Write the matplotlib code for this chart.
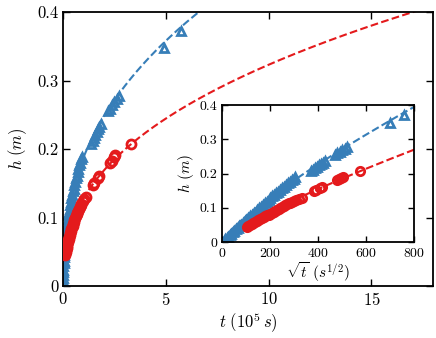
import numpy as np
import matplotlib
matplotlib.use('Agg')
import matplotlib.pyplot as plt
from matplotlib.ticker import FuncFormatter

plt.rcParams['font.family'] = 'serif'
plt.rcParams['font.serif'] = ['cmr10']
plt.rcParams['mathtext.fontset'] = 'cm'
plt.rcParams['axes.formatter.use_mathtext'] = True

# Data (sqrt(t) in s^1/2, h in m)
blue_s = [8, 14, 20, 26, 32, 38, 45, 52, 58, 65, 72, 80, 88, 95, 102, 110, 118, 125,
          132, 140, 148, 155, 162, 170, 178, 186, 194, 202, 210, 218, 226, 234, 242,
          250, 258, 266, 274, 282, 290, 298, 305,
          372, 380, 388, 396, 404, 412, 420, 428,
          470, 480, 490, 500, 512, 522,
          700, 758]
blue_h = [0.004, 0.008, 0.012, 0.016, 0.020, 0.024, 0.029, 0.033, 0.037, 0.042, 0.046,
          0.051, 0.056, 0.061, 0.065, 0.070, 0.075, 0.080, 0.084, 0.089, 0.094, 0.098,
          0.103, 0.108, 0.113, 0.118, 0.123, 0.128, 0.133, 0.138, 0.142, 0.147, 0.152,
          0.157, 0.161, 0.166, 0.171, 0.176, 0.180, 0.185, 0.189,
          0.207, 0.211, 0.216, 0.220, 0.225, 0.229, 0.232, 0.236,
          0.255, 0.259, 0.264, 0.268, 0.273, 0.278,
          0.348, 0.372]

red_s = [103, 110, 117, 124, 131, 138, 145, 152, 159, 166, 173, 180, 187, 194, 201,
         208, 215, 222, 229, 236, 243, 250, 257, 264, 271, 278, 285, 292, 298, 310,
         322, 332,
         382, 390, 410, 417,
         480, 487, 497, 505,
         575]
red_h = [0.045, 0.048, 0.050, 0.053, 0.056, 0.059, 0.061, 0.064, 0.067, 0.069, 0.072,
         0.075, 0.078, 0.080, 0.083, 0.086, 0.088, 0.091, 0.094, 0.096, 0.099, 0.102,
         0.105, 0.107, 0.110, 0.113, 0.115, 0.118, 0.120, 0.124, 0.127, 0.130,
         0.148, 0.151, 0.157, 0.160,
         0.180, 0.183, 0.188, 0.191,
         0.207]

# Power-law fits h = c * t^n  (t in 1e5 s)
blue_c, blue_n = 0.188, 0.40
red_c, red_n = 0.128, 0.402

blue_col = '#377eb8'
red_col = '#e41a1c'

blue_s = np.array(blue_s)
red_s = np.array(red_s)
blue_t = blue_s**2 / 1e5
red_t = red_s**2 / 1e5

fig = plt.figure(figsize=(4.36, 3.38), dpi=100)
ax = fig.add_axes([0.1445, 0.1538, 0.849, 0.8107])

tb = np.linspace(0, 7, 300)
tr = np.linspace(0.1, 18, 300)
ax.plot(tb, blue_c * tb**blue_n, '--', color=blue_col, lw=1.5, zorder=1)
ax.plot(tr, red_c * tr**red_n, '--', color=red_col, lw=1.5, zorder=1)
ax.plot(blue_t, blue_h, '^', mfc='none', mec=blue_col, mew=2, ms=6, zorder=2)
ax.plot(red_t, red_h, 'o', mfc='none', mec=red_col, mew=2, ms=6.5, zorder=3)

ax.set_xlim(0, 18)
ax.set_ylim(0, 0.4)
ax.set_xticks([0, 5, 10, 15])
ax.set_yticks([0, 0.1, 0.2, 0.3, 0.4])
fmt = FuncFormatter(lambda v, p: '0' if v == 0 else ('%g' % v))
ax.yaxis.set_major_formatter(fmt)
ax.tick_params(direction='in', top=True, right=True, length=5, width=1, labelsize=12)
for sp in ax.spines.values():
    sp.set_linewidth(1.3)
ax.set_xlabel(r'$t\ (10^5\,s)$', fontsize=12, labelpad=2)
ax.set_ylabel(r'$h\ (m)$', fontsize=12, labelpad=6)

# Inset
ins = fig.add_axes([0.509, 0.284, 0.441, 0.405])
sb = np.linspace(0, 800, 300)
sr = np.linspace(100, 800, 300)
ins.plot(sb, blue_c * (sb**2 / 1e5)**blue_n, '--', color=blue_col, lw=1.5, zorder=1)
ins.plot(sr, red_c * (sr**2 / 1e5)**red_n, '--', color=red_col, lw=1.5, zorder=1)
ins.plot(blue_s, blue_h, '^', mfc='none', mec=blue_col, mew=2, ms=5.5, zorder=2)
ins.plot(red_s, red_h, 'o', mfc='none', mec=red_col, mew=2, ms=6, zorder=3)
ins.set_xlim(0, 800)
ins.set_ylim(0, 0.4)
ins.set_xticks([0, 200, 400, 600, 800])
ins.set_yticks([0, 0.1, 0.2, 0.3, 0.4])
ins.yaxis.set_major_formatter(fmt)
ins.tick_params(direction='in', top=True, right=True, length=4, width=1, labelsize=10)
for sp in ins.spines.values():
    sp.set_linewidth(1.3)
ins.set_xlabel(r'$\sqrt{t}\ (s^{1/2})$', fontsize=11, labelpad=0)
ins.set_ylabel(r'$h\ (m)$', fontsize=11, labelpad=2)

fig.savefig('out.png', dpi=100)
